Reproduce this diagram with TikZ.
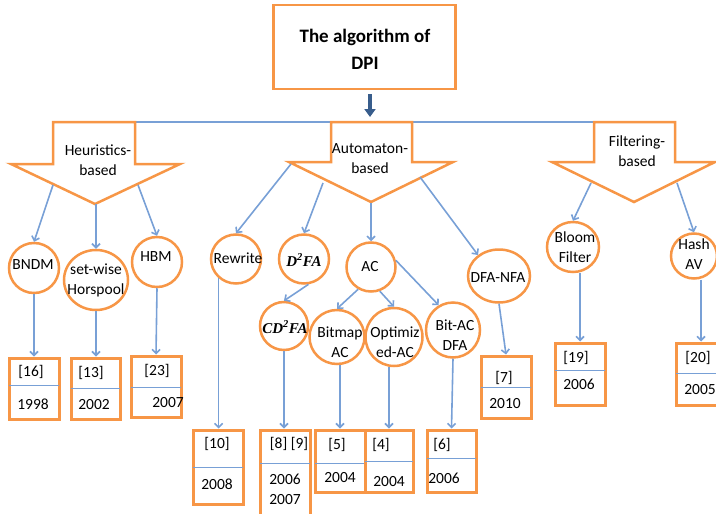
\documentclass[tikz,border=0pt]{standalone}
\usepackage{fontspec}
\setmainfont{Carlito}
\newfontfamily\tnr{Liberation Serif}
\usetikzlibrary{arrows.meta,shapes.geometric}
\definecolor{org}{RGB}{247,150,70}
\definecolor{lblue}{RGB}{120,160,214}
\definecolor{dblue}{RGB}{56,93,140}
\newcommand\mybox[6]{%
  \node[refbox, minimum width={#4-#2}, minimum height={#5-#3}] (#1) at ({(#2+#4)/2},{(#3+#5)/2}) {};
  \draw[divider] (#2,#6) -- (#4,#6);}
\begin{document}
\begin{tikzpicture}[x=1pt,y=-1pt,
  lbl/.style={font=\fontsize{15.5}{20}\selectfont, align=center, inner sep=0pt},
  circ/.style={ellipse, draw=org, line width=2.5pt, fill=white, inner sep=0pt},
  refbox/.style={draw=org, line width=3pt, fill=white, inner sep=0pt},
  divider/.style={draw=lblue, line width=1pt},
  conn/.style={draw=lblue, line width=1.6pt, -{Straight Barb[length=4pt,width=8pt]}},
  catshape/.style={draw=org, line width=2.5pt, fill=white, line join=miter},
  hline/.style={draw=lblue, line width=1.2pt},
  dkarrow/.style={draw=dblue, line width=4pt, -{Triangle[length=8pt,width=11pt]}},
]
\useasboundingbox (0,0) rectangle (716,514);

% title
\node[draw=org, line width=2.5pt, minimum width=182, minimum height=84, inner sep=0pt] (top) at (364.5,47) {};
\node[inner sep=0pt, align=center, font=\fontsize{19}{27}\selectfont\bfseries] (toptxt) at (365,49.5) {The algorithm of\\DPI};
\coordinate (tb) at (370,117);
\draw[dkarrow] ([xshift=5.5pt,yshift=-4pt]top.south) -- (tb);

% horizontal line
\coordinate (hlL) at (53,122);
\coordinate (hlR) at (594,122);
\draw[hline] (hlL) -- (hlR);

% category arrows
\draw[catshape] (53,122) -- (135,122) -- (135,164) -- (180,164) -- (95,204) -- (11,164) -- (53,164) -- cycle;
\draw[catshape] (331,122) -- (412,122) -- (412,162) -- (453,162) -- (371,202) -- (289,162) -- (331,162) -- cycle;
\draw[catshape] (594,122) -- (675,122) -- (675,162) -- (715,162) -- (634,202) -- (552,162) -- (594,162) -- cycle;
\node[lbl] (heur) at (98,160) {Heuristics-\\based};
\node[lbl] (auto) at (370,158.5) {Automaton-\\based};
\node[lbl] (filt) at (637,151) {Filtering-\\based};

\coordinate (hs1) at (53,185);
\coordinate (hs2) at (96,204);
\coordinate (hs3) at (138,185);
\coordinate (as1) at (291,164);
\coordinate (as2) at (323,183);
\coordinate (as3) at (371,203);
\coordinate (as4) at (420,177);
\coordinate (fs1) at (591,183);
\coordinate (fs2) at (677,183);

% circles
\node[circ, minimum width=50, minimum height=50] (bndm) at (34,268) {};
\node[circ, minimum width=64, minimum height=60] (swh) at (96,280) {};
\node[circ, minimum width=50, minimum height=50] (hbm) at (157,262) {};
\node[circ, minimum width=50, minimum height=49] (rewrite) at (236,259) {};
\node[circ, minimum width=50, minimum height=49] (d2fa) at (304,259) {};
\node[circ, minimum width=49, minimum height=49] (ac) at (371,267) {};
\node[circ, minimum width=62, minimum height=53] (dfanfa) at (499,276) {};
\node[circ, minimum width=48, minimum height=48] (cd2fa) at (284,326) {};
\node[circ, minimum width=55, minimum height=54] (bitmap) at (337,337) {};
\node[circ, minimum width=57, minimum height=58] (optac) at (394,337) {};
\node[circ, minimum width=54, minimum height=55] (bitac) at (453,330) {};
\node[circ, minimum width=52, minimum height=50] (bloom) at (573,247) {};
\node[circ, minimum width=46, minimum height=45] (hashav) at (694,256) {};

\node[lbl] (tbndm) at (33,265) {BNDM};
\node[lbl] (tswh) at (96,280.5) {set-wise\\Horspool};
\node[lbl] (thbm) at (156,257) {HBM};
\node[lbl] (trew) at (238,258) {Rewrite};
\node[lbl, font=\fontsize{15}{18}\selectfont\tnr\bfseries\itshape] (td2fa) at (304,260) {D\textsuperscript{2}FA};
\node[lbl] (tac) at (370,267) {AC};
\node[lbl] (tdfa) at (498,278) {DFA-NFA};
\node[lbl, font=\fontsize{15}{18}\selectfont\tnr\bfseries\itshape] (tcd2fa) at (285,327) {CD\textsuperscript{2}FA};
\node[lbl] (tbitmap) at (340,342) {Bitmap\\AC};
\node[lbl] (toptac) at (395,342) {Optimiz\\ed-AC};
\node[lbl] (tbitac) at (455,335) {Bit-AC\\DFA};
\node[lbl] (tbloom) at (575,247.5) {Bloom\\Filter};
\node[lbl] (thash) at (694,254) {Hash\\AV};

% boxes
\mybox{b16}{9}{358}{59}{419}{385}
\mybox{b13}{71}{358}{120}{419}{388}
\mybox{b23}{131}{356}{181}{417}{387}
\mybox{b10}{193}{430}{243}{504}{467}
\mybox{b89}{260}{430}{310}{530}{463}
\mybox{b5}{315}{430}{365}{492}{463}
\mybox{b4}{365}{430}{413}{492}{461}
\mybox{b6}{427}{430}{476}{492}{458}
\mybox{b7}{481}{356}{531}{418}{387}
\mybox{b19}{555}{343}{605}{405}{370}
\mybox{b20}{676}{343}{726}{405}{373}

\node[lbl] (l16a) at (31,372) {[16]};
\node[lbl] (l16b) at (33,404) {1998};
\node[lbl] (l13a) at (91,373) {[13]};
\node[lbl] (l13b) at (94,405) {2002};
\node[lbl] (l23a) at (157,371) {[23]};
\node[lbl] (l23b) at (168,403) {2007};
\node[lbl] (l10a) at (217,444) {[10]};
\node[lbl] (l10b) at (217,484) {2008};
\node[lbl] (l89a) at (289,444) {[8] [9]};
\node[lbl] (l89b) at (285,489) {2006\\2007};
\node[lbl] (l5a) at (337,445) {[5]};
\node[lbl] (l5b) at (340,478) {2004};
\node[lbl] (l4a) at (381,445) {[4]};
\node[lbl] (l4b) at (389,482) {2004};
\node[lbl] (l6a) at (442,445) {[6]};
\node[lbl] (l6b) at (444,478) {2006};
\node[lbl] (l7a) at (504,378) {[7]};
\node[lbl] (l7b) at (505,404) {2010};
\node[lbl] (l19a) at (576,358) {[19]};
\node[lbl] (l19b) at (579,384) {2006};
\node[lbl] (l20a) at (698,358) {[20]};
\node[lbl] (l20b) at (700,390) {2005};

% connectors from categories
\draw[conn] (hs1) -- (bndm.north);
\draw[conn] (hs2) -- (swh.north);
\draw[conn] (hs3) -- (hbm.north);
\draw[conn] (as1) -- (rewrite.north);
\draw[conn] (as2) -- (d2fa.north);
\draw[conn] (as3) -- (ac.north);
\draw[conn] (as4) -- (dfanfa.135);
\draw[conn] (fs1) -- (bloom.north);
\draw[conn] (fs2) -- (hashav.north);

% second level
\draw[conn] (d2fa.-80) -- (cd2fa.north);
\draw[conn] (ac.-120) -- (bitmap.north);
\draw[conn] (ac.-70) -- (optac.north);
\draw[conn] (ac.15) -- (bitac.120);

% to boxes
\draw[conn] (bndm.south) -- (bndm.south |- b16.north);
\draw[conn] (swh.south) -- (swh.south |- b13.north);
\draw[conn] (hbm.south) -- (b23.north);
\draw[conn] (rewrite.-132) -- (rewrite.-132 |- b10.north);
\draw[conn] (cd2fa.south) -- (cd2fa.south |- b89.north);
\draw[conn] (b5.north |- bitmap.south) -- (b5.north);
\draw[conn] (b4.north |- optac.south) -- (b4.north);
\draw[conn] (bitac.south) -- (b6.north);
\draw[conn] (dfanfa.south) -- (b7.north);
\draw[conn] (b19.north |- bloom.south) -- (b19.north);
\draw[conn] (b20.north |- hashav.south) -- (b20.north);
\end{tikzpicture}
\end{document}
